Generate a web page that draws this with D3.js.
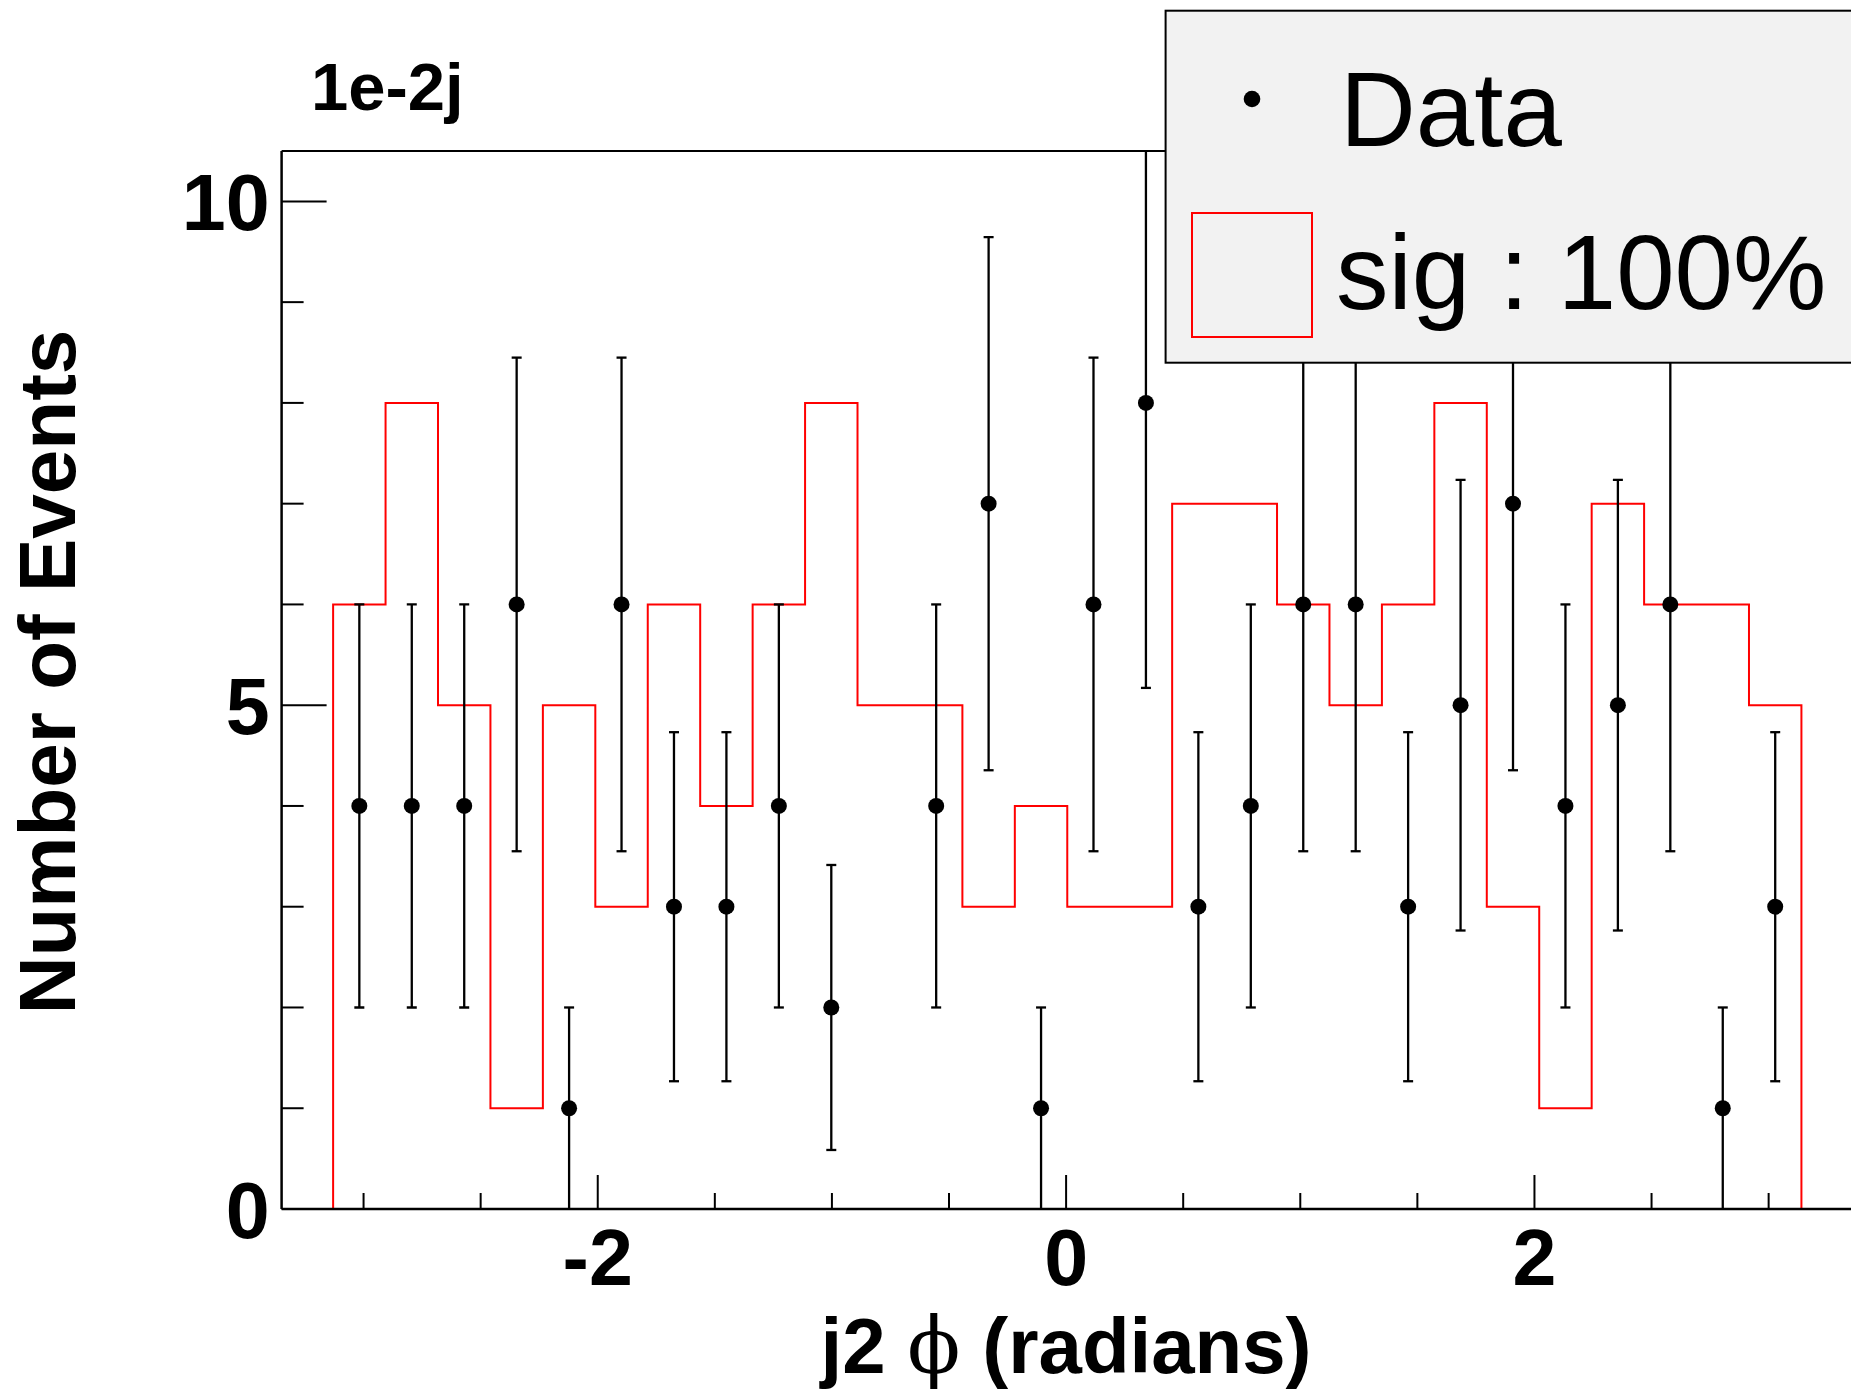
<!DOCTYPE html>
<html>
<head>
<meta charset="utf-8">
<script src="https://cdn.jsdelivr.net/npm/d3@7"></script>
<style>
  html, body { margin: 0; padding: 0; background: #ffffff; }
  svg { display: block; }
</style>
</head>
<body>
<svg id="chart" width="1851" height="1394"></svg>
<script>
// ---------------- data ----------------
const histLow = -3.13;
const histHigh = 3.14;
const nBins = 28;
// signal histogram ("sig : 100%"), units of 1e-2
const sigValues = [6, 8, 5, 1, 5, 3, 6, 4, 6, 8, 5, 5, 3, 4, 3, 3, 7, 7, 6, 5, 6, 8, 3, 1, 7, 6, 6, 5];
// data points ("Data"), units of 1e-2 (0 = no point drawn)
const dataValues = [4, 4, 4, 6, 1, 6, 3, 3, 4, 2, 0, 4, 7, 1, 6, 8, 3, 4, 6, 6, 3, 5, 7, 4, 5, 6, 1, 3];
const xMajorTicks = [-2, 0, 2];
const xMinorTicks = [-3, -2.5, -1.5, -1, -0.5, 0.5, 1, 1.5, 2.5, 3];
const yMajorTicks = [0, 5, 10];
const yMinorTicks = [1, 2, 3, 4, 6, 7, 8, 9];
const xDomain = [-3.35, 3.35];
const yDomain = [0, 10.5];
const legendLabels = ["Data", "sig : 100%"];
const xTitle = ["j2 ", "\u03D5", " (radians)"];
const yTitle = "Number of Events";
const exponentLabel = "1e-2j";

// ---------------- layout ----------------
const F = "'Liberation Sans', Arial, Helvetica, sans-serif";
const L = 281.6, R = 1850.6, T = 151, B = 1209;
const svg = d3.select("#chart");
const x = d3.scaleLinear().domain(xDomain).range([L, R]);
const y = d3.scaleLinear().domain(yDomain).range([B, T]);

svg.append("defs").append("clipPath").attr("id", "plotclip")
  .append("rect").attr("x", L).attr("y", T).attr("width", R - L).attr("height", B - T);

const binW = (histHigh - histLow) / nBins;
const edge = i => histLow + i * binW;

// signal histogram step line
let p = d3.path();
p.moveTo(L, y(0));
p.lineTo(x(edge(0)), y(0));
sigValues.forEach((v, i) => {
  p.lineTo(x(edge(i)), y(v));
  p.lineTo(x(edge(i + 1)), y(v));
});
p.lineTo(x(edge(nBins)), y(0));
p.lineTo(R, y(0));
const plot = svg.append("g").attr("clip-path", "url(#plotclip)");
plot.append("path").attr("d", p.toString())
  .attr("fill", "none").attr("stroke", "#ff0000").attr("stroke-width", 2);

// data points with sqrt(N) error bars
const pts = dataValues.map((v, i) => ({ c: histLow + (i + 0.5) * binW, v: v, e: Math.sqrt(v) }))
  .filter(d => d.v > 0);
const g = plot.append("g");
pts.forEach(d => {
  const lo = Math.max(0, d.v - d.e), hi = d.v + d.e;
  g.append("line").attr("x1", x(d.c)).attr("x2", x(d.c)).attr("y1", y(lo)).attr("y2", y(hi))
    .attr("stroke", "#000").attr("stroke-width", 2.3);
  [lo, hi].forEach(t => {
    if (t > 0) g.append("line").attr("x1", x(d.c) - 5).attr("x2", x(d.c) + 5)
      .attr("y1", y(t)).attr("y2", y(t)).attr("stroke", "#000").attr("stroke-width", 2.3);
  });
  g.append("circle").attr("cx", x(d.c)).attr("cy", y(d.v)).attr("r", 8).attr("fill", "#000");
});

// frame
const ax = svg.append("g").attr("stroke", "#000").attr("stroke-width", 2.5).attr("fill", "none");
ax.append("line").attr("x1", L).attr("x2", L).attr("y1", T).attr("y2", B);
ax.append("line").attr("x1", L).attr("x2", R + 2).attr("y1", B).attr("y2", B);
ax.append("line").attr("x1", L).attr("x2", R + 2).attr("y1", T).attr("y2", T).attr("stroke-width", 2);

// y ticks
yMajorTicks.forEach(t => ax.append("line").attr("x1", L).attr("x2", L + 45).attr("y1", y(t)).attr("y2", y(t)).attr("stroke-width", 2));
yMinorTicks.forEach(t => ax.append("line").attr("x1", L).attr("x2", L + 22).attr("y1", y(t)).attr("y2", y(t)).attr("stroke-width", 2));
// x ticks
xMajorTicks.forEach(t => ax.append("line").attr("x1", x(t)).attr("x2", x(t)).attr("y1", B).attr("y2", B - 34).attr("stroke-width", 2));
xMinorTicks.forEach(t => ax.append("line").attr("x1", x(t)).attr("x2", x(t)).attr("y1", B).attr("y2", B - 16).attr("stroke-width", 2));

// tick labels
svg.append("g").selectAll("text").data(yMajorTicks).join("text")
  .attr("x", L - 12).attr("y", d => y(d) + 29)
  .attr("text-anchor", "end").attr("font-family", F).attr("font-weight", "bold")
  .attr("font-size", 79).text(d => d);
svg.append("g").selectAll("text").data(xMajorTicks).join("text")
  .attr("x", d => x(d)).attr("y", 1285)
  .attr("text-anchor", "middle").attr("font-family", F).attr("font-weight", "bold")
  .attr("font-size", 79).text(d => d < 0 ? "-" + Math.abs(d) : d);

// exponent label
svg.append("text").attr("x", 311).attr("y", 110).attr("font-family", F).attr("font-weight", "bold")
  .attr("font-size", 67).text(exponentLabel);

// axis titles
const xt = svg.append("text").attr("x", (L + R) / 2).attr("y", 1373).attr("text-anchor", "middle")
  .attr("font-family", F).attr("font-weight", "bold").attr("font-size", 78);
xt.append("tspan").text(xTitle[0]);
xt.append("tspan").attr("font-family", "'DejaVu Serif', 'Liberation Serif', serif").attr("font-weight", "normal").text(xTitle[1]);
xt.append("tspan").text(xTitle[2]);

svg.append("text").attr("transform", "translate(75,672) rotate(-90)").attr("text-anchor", "middle")
  .attr("font-family", F).attr("font-weight", "bold").attr("font-size", 80).text(yTitle);

// legend
const lg = svg.append("g");
lg.append("rect").attr("x", 1165.6).attr("y", 10.7).attr("width", 760).attr("height", 352)
  .attr("fill", "#f2f2f2").attr("stroke", "#000").attr("stroke-width", 2);
lg.append("circle").attr("cx", 1252).attr("cy", 99).attr("r", 8.3).attr("fill", "#000");
lg.append("rect").attr("x", 1192).attr("y", 213).attr("width", 120).attr("height", 124)
  .attr("fill", "none").attr("stroke", "#ff0000").attr("stroke-width", 2);
lg.append("text").attr("x", 1340).attr("y", 146).attr("font-family", F).attr("font-size", 105).text(legendLabels[0]);
lg.append("text").attr("x", 1336).attr("y", 309).attr("font-family", F).attr("font-size", 105).text(legendLabels[1]);
</script>
</body>
</html>
